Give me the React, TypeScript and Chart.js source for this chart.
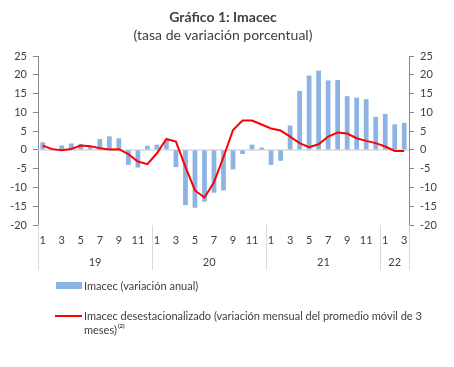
import React, { useEffect, useRef } from "react";
import { Chart, registerables } from "chart.js";

Chart.register(...registerables);

const titleText = "Gráfico 1: Imacec";
const subtitleText = "(tasa de variación porcentual)";

const months = [
  1, 2, 3, 4, 5, 6, 7, 8, 9, 10, 11, 12,
  1, 2, 3, 4, 5, 6, 7, 8, 9, 10, 11, 12,
  1, 2, 3, 4, 5, 6, 7, 8, 9, 10, 11, 12,
  1, 2, 3,
];
const years = ["19", "20", "21", "22"];
const yearCounts = [12, 12, 12, 3];

const annualVar = [
  2.0, 0.4, 1.2, 1.7, 1.6, 1.0, 2.9, 3.6, 3.1, -4.0, -4.7, 1.1,
  1.4, 2.7, -4.6, -14.7, -15.4, -13.8, -11.4, -10.8, -5.2, -1.1, 1.4, 0.6,
  -4.0, -2.9, 6.5, 15.7, 19.8, 21.1, 18.5, 18.6, 14.3, 13.9, 13.5, 8.8,
  9.6, 6.8, 7.2,
];
const seasonalAdj = [
  1.15, 0.2, -0.1, 0.25, 1.15, 1.0, 0.45, 0.1, 0.2, -1.15, -3.1, -3.8,
  -0.9, 2.9, 2.2, -4.5, -10.8, -12.7, -8.6, -1.9, 5.3, 7.8, 7.8, 6.75,
  5.7, 5.15, 3.55, 1.8, 0.7, 1.5, 3.55, 4.6, 4.35, 3.1, 2.4, 1.8,
  0.9, -0.3, -0.3,
];
const yTicksMin = -20;
const yTicksMax = 25;
const yStep = 5;

const legendBar = "Imacec (variación anual)";
const legendLine1 = "Imacec desestacionalizado (variación mensual del promedio móvil de 3";
const legendLine2 = "meses)";
const legendSup = "(2)";

const FONT = "Lato, 'Liberation Sans', sans-serif";
const TXT = "#404040";
const BAR = "#8db3e2";
const RED = "#ff0000";
const AXIS = "#868686";
const SEP = "#d9d9d9";

const overlay = {
  id: "overlay",
  beforeDatasetsDraw(chart: any) {
    const { ctx, chartArea } = chart;
    const y0 = chart.scales.y.getPixelForValue(0);
    ctx.save();
    ctx.strokeStyle = "#d9d9d9";
    ctx.lineWidth = 1.5;
    ctx.beginPath();
    ctx.moveTo(chartArea.left, y0);
    ctx.lineTo(chartArea.right, y0);
    ctx.stroke();
    ctx.restore();
  },
  afterDraw(chart: any) {
    const { ctx, chartArea, width } = chart;
    const xs = chart.scales.x;
    ctx.save();
    // title
    ctx.fillStyle = TXT;
    ctx.textAlign = "center";
    ctx.textBaseline = "middle";
    ctx.font = `bold 14px ${FONT}`;
    ctx.fillText(titleText, 223, 17);
    ctx.font = `14px ${FONT}`;
    ctx.fillText(subtitleText, 223, 35);

    // month labels
    ctx.font = `11px ${FONT}`;
    const bottom = chartArea.bottom;
    months.forEach((m, i) => {
      if (m % 2 === 1) {
        ctx.fillText(String(m), xs.getPixelForValue(i), bottom + 15);
      }
    });
    // year separators and labels
    const half = (xs.getPixelForValue(1) - xs.getPixelForValue(0)) / 2;
    let start = 0;
    ctx.strokeStyle = SEP;
    ctx.lineWidth = 1;
    const drawSep = (idx: number) => {
      const x = Math.round(xs.getPixelForValue(idx) - half) + 0.5;
      ctx.beginPath();
      ctx.moveTo(x, bottom);
      ctx.lineTo(x, bottom + 45);
      ctx.stroke();
    };
    years.forEach((yr, k) => {
      const n = yearCounts[k];
      drawSep(start);
      const cx = (xs.getPixelForValue(start) + xs.getPixelForValue(start + n - 1)) / 2;
      ctx.fillText(yr, cx, bottom + 37);
      start += n;
    });
    drawSep(start);

    // legend
    ctx.textAlign = "left";
    ctx.font = `11px ${FONT}`;
    ctx.fillStyle = BAR;
    ctx.fillRect(56, 282, 26, 7);
    ctx.fillStyle = TXT;
    ctx.fillText(legendBar, 84, 286);
    ctx.strokeStyle = RED;
    ctx.lineWidth = 2;
    ctx.beginPath();
    ctx.moveTo(55, 316);
    ctx.lineTo(82, 316);
    ctx.stroke();
    ctx.fillText(legendLine1, 84, 316);
    ctx.fillText(legendLine2, 84, 330);
    const w2 = ctx.measureText(legendLine2).width;
    ctx.font = `bold 6px ${FONT}`;
    ctx.fillText(legendSup, 84 + w2 + 1, 326);
    ctx.restore();
  },
};

export default function App() {
  const ref = useRef<HTMLCanvasElement | null>(null);
  useEffect(() => {
    if (!ref.current) return;
    const chart = new Chart(ref.current, {
      type: "bar",
      data: {
        labels: months.map(String),
        datasets: [
          {
            type: "line",
            label: legendLine1,
            data: seasonalAdj,
            borderColor: RED,
            backgroundColor: RED,
            borderWidth: 2,
            pointRadius: 0,
            tension: 0,
            yAxisID: "y",
            order: 0,
          },
          {
            type: "bar",
            label: legendBar,
            data: annualVar,
            backgroundColor: BAR,
            borderWidth: 0,
            barPercentage: 0.5,
            categoryPercentage: 1,
            yAxisID: "y",
            order: 1,
          },
        ],
      },
      options: {
        animation: false,
        responsive: true,
        maintainAspectRatio: false,
        layout: { padding: { top: 56, bottom: 142, left: 0, right: 0 } },
        plugins: {
          legend: { display: false },
          title: { display: false },
          tooltip: { enabled: false },
        },
        scales: {
          x: { display: false, offset: true },
          y: {
            position: "left",
            min: yTicksMin,
            max: yTicksMax,
            ticks: {
              stepSize: yStep,
              padding: 6,
              color: TXT,
              font: { size: 11, family: FONT },
            },
            grid: { drawOnChartArea: false, drawTicks: true, tickLength: 5, color: AXIS },
            border: { display: true, color: AXIS },
            afterFit: (s: any) => { s.width = 38; },
          },
          y2: {
            position: "right",
            min: yTicksMin,
            max: yTicksMax,
            ticks: {
              stepSize: yStep,
              padding: 6,
              color: TXT,
              font: { size: 11, family: FONT },
            },
            grid: { drawOnChartArea: false, drawTicks: true, tickLength: 5, color: AXIS },
            border: { display: true, color: AXIS },
            afterFit: (s: any) => { s.width = 45; },
          },
        },
      },
      plugins: [overlay],
    });
    return () => chart.destroy();
  }, []);
  return (
    <div style={{ position: "fixed", left: 0, top: 0, width: 454, height: 367, background: "#fff" }}>
      <canvas ref={ref} />
    </div>
  );
}
